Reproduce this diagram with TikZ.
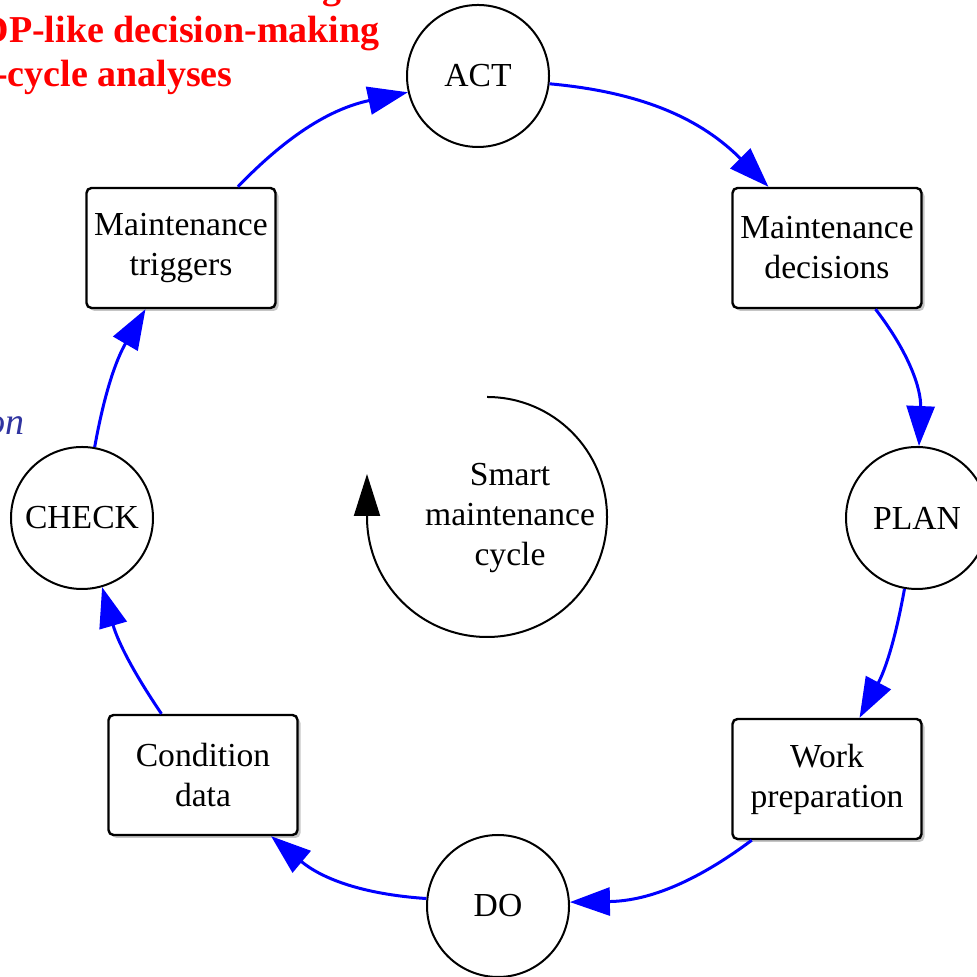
\documentclass[tikz,border=0pt]{standalone}
\usepackage{fontspec}
\setmainfont{Liberation Serif}
\usetikzlibrary{arrows.meta}
\usetikzlibrary{shadows}
\definecolor{notered}{RGB}{255,0,0}
\definecolor{noteblue}{RGB}{48,52,160}
\tikzset{
	align=center,
	font=\fontsize{16.8}{20}\selectfont,
	phase/.style={
		draw,
		circle,
		line width=1pt,
		fill=white,
		minimum size=71pt,
		inner sep=0pt,
	},
	stage/.style={
		draw,
		rectangle,
		rounded corners=2.5pt,
		line width=1.2pt,
		fill=white,
		minimum width=94.5pt,
		minimum height=60pt,
		drop shadow={shadow xshift=1.5pt,shadow yshift=-1.5pt,fill=black!45,opacity=0.5},
	},
	flow/.style={
		blue,
		line width=1.5pt,
		-{Triangle[length=20pt,width=14pt]}
	},
	loop/.style={
		line width=1pt,
		-{Triangle[length=21pt,width=13pt]}
	},
	note/.style={
		anchor=base east,
		inner sep=0pt,
		font=\fontsize{19}{22}\selectfont\bfseries,
		text=notered,
	},
}

\begin{document}
\begin{tikzpicture}[x=0.5pt,y=0.5pt]
		\clip (0,0) rectangle (977,977);
		\useasboundingbox (0,0) rectangle (977,977);

		% notes cut by the frame
		\node[note]     (noteg) at (342,978) {g};
		\node[note]     (notepomdp) at (380,934) {DP-like decision-making};
		\node[note]     (notelcc) at (233,890) {-cycle analyses};
		\node[note,text=noteblue,font=\fontsize{19}{22}\selectfont\itshape] (noteon) at (25,542) {on};

		\node[phase]    (act) at (478,901) {ACT};
		\node[phase]    (plan) at (917,459) {PLAN};
		\node[phase]    (do) at (498,71) {DO};
		\node[phase]    (check) at (82,459) {CHECK};

		\node[stage]    (triggers) at (181,729) {Maintenance\\triggers};
		\node[stage]    (decisions) at (827,729) {Maintenance\\decisions};
		\node[stage]    (workprep) at (827,198) {Work\\preparation};
		\node[stage]    (condition) at (203,202) {Condition\\data};

		\node           (cycle) at (510,459) {Smart\\maintenance\\cycle};
		\draw[loop]     (487,580) arc[start angle=90,end angle=-180,radius=120] -- ++(0,43);

		\draw[flow]     (act) to[bend left=20] (decisions);
		\draw[flow]     (decisions) to[bend left=20] (plan);
		\draw[flow]     (plan) to[bend left=9] (workprep);
		\draw[flow]     (workprep) to[bend left=18] (do);
		\draw[flow]     (do) to[bend left=18] (condition);
		\draw[flow]     (condition) to[bend left=9] (check);
		\draw[flow]     (check) to[bend left=10] (triggers);
		\draw[flow]     (triggers) to[bend left=17] (act);

	\end{tikzpicture}
\end{document}
